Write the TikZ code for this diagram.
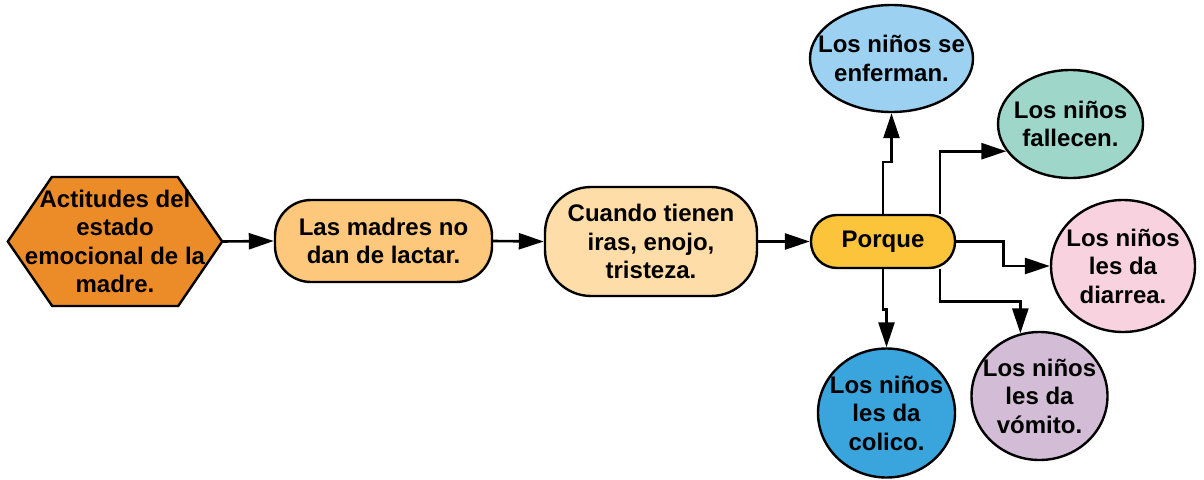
\documentclass[tikz,border=0pt]{standalone}
\usepackage{fontspec}
\setmainfont{Liberation Sans}
\usetikzlibrary{shapes.geometric,arrows.meta,backgrounds}

\definecolor{hexfill}{HTML}{EC8C29}
\definecolor{madrefill}{HTML}{FDC87C}
\definecolor{cuandofill}{HTML}{FFDDA9}
\definecolor{porquefill}{HTML}{FBC43B}
\definecolor{enfermanfill}{HTML}{9CD1F2}
\definecolor{fallecenfill}{HTML}{9ED7CA}
\definecolor{diarreafill}{HTML}{F8D3DF}
\definecolor{vomitofill}{HTML}{D3BCD5}
\definecolor{colicofill}{HTML}{3AA4DD}

\tikzset{
  txt/.style={font=\fontsize{24}{28.5}\selectfont\bfseries, align=center, text=black},
  pill/.style={txt, draw=black, line width=2.4pt, rounded corners=#1, inner sep=0pt},
  bubble/.style={draw=black, line width=2.4pt, ellipse, inner sep=0pt},
  bubbletext/.style={label={[txt]center:#1}},
  arr/.style={draw=black, line width=2.6pt, -{Triangle[length=25pt,width=16pt]}},
}

\begin{document}
\begin{tikzpicture}[x=1pt, y=-1pt]
\useasboundingbox (0,0) rectangle (1204,479);

% starting hexagon: the text node carries the name, the outline sits behind it
\node[txt, minimum width=214pt, minimum height=129pt, inner sep=0pt] (hex) at (115,241.5)
  {Actitudes del\\estado\\emocional de la\\madre.};
\begin{scope}[on background layer]
  \draw[fill=hexfill, line width=2.4pt, line join=miter]
    (hex.west) -- ++(44,-64.5) -- ++(126,0) -- (hex.east) -- ++(-44,64.5) -- ++(-126,0) -- cycle;
\end{scope}

% main chain
\node[pill=36pt, fill=madrefill, minimum width=217pt, minimum height=82pt] (madres) at (383.5,241)
  {Las madres no\\dan de lactar.};
\node[pill=46pt, fill=cuandofill, minimum width=212pt, minimum height=109pt] (cuando) at (651,241.5)
  {Cuando tienen\\iras, enojo,\\tristeza.};
\node[pill=26pt, fill=porquefill, minimum width=144pt, minimum height=53pt] (porque) at (883,241.5)
  {Porque};

% consequences
\node[bubble, fill=enfermanfill, minimum width=163pt, minimum height=107pt,
      bubbletext={Los niños se\\enferman.}] (enferman) at (891.5,58.5) {};
\node[bubble, fill=fallecenfill, minimum width=145pt, minimum height=108pt,
      bubbletext={Los niños\\fallecen.}] (fallecen) at (1070.5,124) {};
\node[bubble, fill=diarreafill, minimum width=144pt, minimum height=132pt,
      bubbletext={Los niños\\les da\\diarrea.}] (diarrea) at (1123,266) {};
\node[bubble, fill=vomitofill, minimum width=136pt, minimum height=128pt,
      bubbletext={Los niños\\les da\\vómito.}] (vomito) at (1039.5,396) {};
\node[bubble, fill=colicofill, minimum width=137pt, minimum height=129pt,
      bubbletext={Los niños\\les da\\colico.}] (colico) at (886.5,413) {};

% connectors
\draw[arr] (hex.east) -- (madres.west);
\draw[arr] (madres.east) -- (cuando.west);
\draw[arr] (cuando.east) -- (porque.west);
\draw[arr] (porque.north) -- ++(0,-52) -| (enferman.south);
\draw[arr] ([xshift=57pt]porque.north) |- (fallecen.203);
\draw[arr] (porque.east) -- ++(47,0) |- (diarrea.west);
\draw[arr] ([xshift=57pt]porque.south) -- ++(0,32) -| (vomito.107);
\draw[arr] (porque.south) -- ++(0,40) -| (colico.north);
\end{tikzpicture}
\end{document}
